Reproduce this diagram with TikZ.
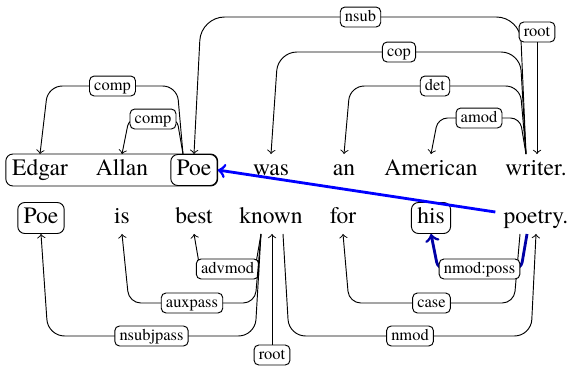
\documentclass[tikz,border=0pt]{standalone}
\usepackage{fontspec}
\setmainfont{TeX Gyre Termes}
\usetikzlibrary{calc,fit}

\begin{document}
\begin{tikzpicture}[x=0.4255pt,y=-0.4255pt,
        word/.style={inner xsep=2.5pt,inner ysep=2.1pt,text height=7pt,text depth=2pt},
        boxed/.style={word,draw,rounded corners=3pt},
        lab/.style={draw=black,text=black,line width=0.4pt,fill=white,rounded corners=2pt,font=\scriptsize,
            inner xsep=2pt,inner ysep=1pt,text height=5pt,text depth=1.5pt},
        dep/.style={->},
        hl/.style={->,blue,very thick},
        possarc/.style={->,blue!65!black,very thick}]
        \useasboundingbox (0,0) rectangle (570,365);
        % first sentence
        \node[word] (edgar) at (40,170) {Edgar};
        \node[word] (allan) at (122,170) {Allan};
        \node[boxed] (poe) at (194,170) {Poe};
        \node[word] (was) at (271,170) {was};
        \node[word] (an) at (344,170) {an};
        \node[word] (american) at (431,170) {American};
        \node[word] (writer) at (536,170) {writer.};
        \node[draw,rounded corners=3pt,inner sep=0pt,fit=(edgar)(poe)] (name) {};
        % second sentence
        \node[boxed] (poeb) at (41,218) {Poe};
        \node[word] (is) at (122,218) {is};
        \node[word] (best) at (194,218) {best};
        \node[word] (known) at (271,218) {known};
        \node[word] (for) at (343,218) {for};
        \node[boxed] (his) at (431,218) {his};
        \node[word] (poetry) at (536,218) {poetry.};
        % arcs above
        \draw[dep,rounded corners=10pt] ($(writer.north)+(-10,0)$) -- ++(-6,-137) -- node[lab] {nsub} ($(poe.north)+(7,-137)$) -- (poe.north);
        \draw[dep,rounded corners=8pt] ($(writer.north)+(-10,0)$) -- ++(-6,-102) -- node[lab] {cop} ($(was.north)+(7,-102)$) -- (was.north);
        \draw[dep,rounded corners=6pt] ($(writer.north)+(-10,0)$) -- ++(-6,-68) -- node[lab] {det} ($(an.north)+(6,-68)$) -- (an.north);
        \draw[dep,rounded corners=4pt] ($(writer.north)+(-10,0)$) -- ++(-6,-36) -- node[lab] {amod} ($(american.north)+(7,-36)$) -- (american.north);
        \node[lab] (roota) at (537,32) {root};
        \draw[dep] (roota) -- (roota |- writer.north);
        \draw[dep,rounded corners=6pt] ($(poe.north)+(-11,0)$) -- ++(-6,-68) -- node[lab] {comp} ($(edgar.north)+(8,-68)$) -- (edgar.north);
        \draw[dep,rounded corners=3pt] ($(poe.north)+(-11,0)$) -- ++(-6,-35) -- node[lab] {comp} ($(allan.north)+(7,-35)$) -- (allan.north);
        \draw[hl] ($(poetry.west)+(-2,-6)$) -- (poe.east);
        % arcs below
        \draw[dep,rounded corners=3pt] ($(known.south)+(-10,0)$) -- ++(-6,35) -- node[lab] {advmod} ($(best.south)+(6,35)$) -- (best.south);
        \draw[dep,rounded corners=5pt] ($(known.south)+(-10,0)$) -- ++(-6,69) -- node[lab] {auxpass} ($(is.south)+(7,69)$) -- (is.south);
        \draw[dep,rounded corners=7pt] ($(known.south)+(-10,0)$) -- ++(-6,102) -- node[lab] {nsubjpass} ($(poeb.south)+(7,102)$) -- (poeb.south);
        \node[lab] (rootb) at (272,355) {root};
        \draw[dep] (rootb) -- (rootb |- known.south);
        \draw[dep,rounded corners=7pt] ($(known.south)+(12,0)$) -- ++(6,102) -- node[lab] {nmod} ($(poetry.south)+(-5,102)$) -- (poetry.south);
        \draw[dep,rounded corners=5pt] ($(poetry.south)+(-16,0)$) -- ++(-6,69) -- node[lab] {case} ($(for.south)+(6,69)$) -- (for.south);
        \draw[possarc,rounded corners=3pt] ($(poetry.south)+(-9,0)$) -- ++(-6,35) -- node[lab] {nmod:poss} ($(his.south)+(7,35)$) -- (his.south);
    \end{tikzpicture}
\end{document}
